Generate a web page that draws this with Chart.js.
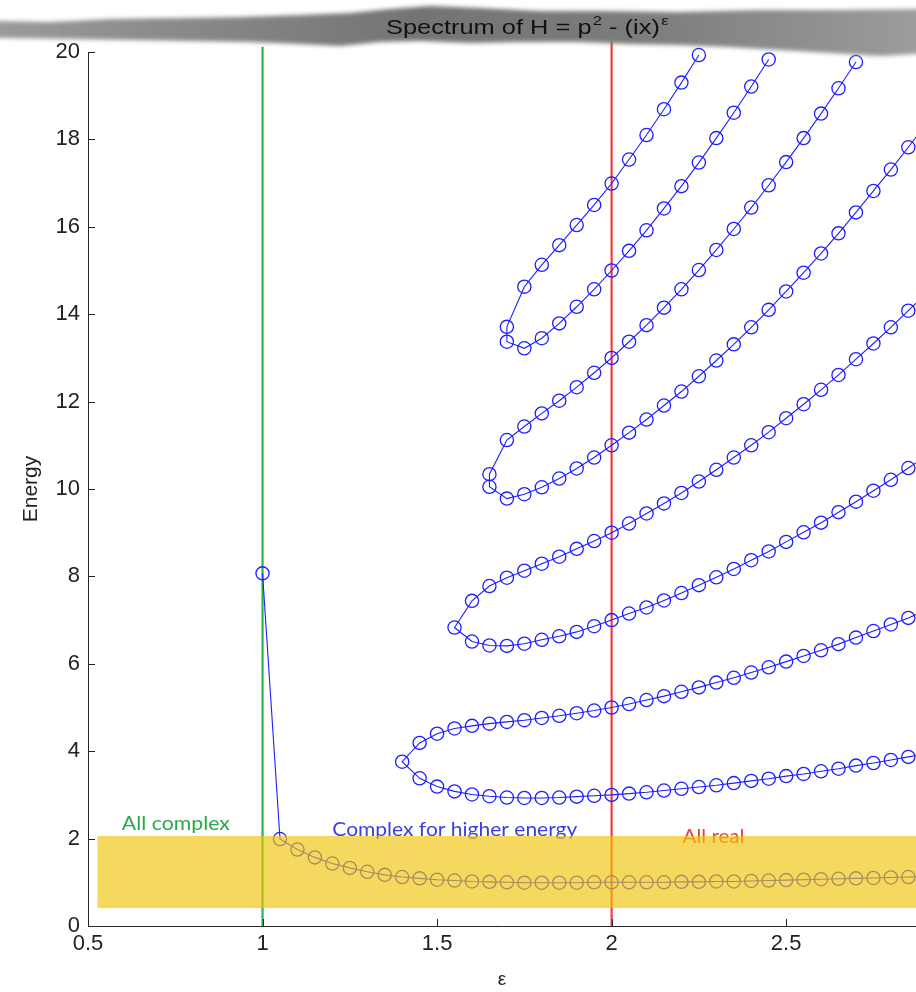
<!DOCTYPE html>
<html>
<head>
<meta charset="utf-8">
<title>Spectrum of H = p² - (ix)^ε</title>
<script src="https://cdn.jsdelivr.net/npm/chart.js@4.4.1/dist/chart.umd.min.js"></script>
<style>
  html, body { margin: 0; padding: 0; background: #fff; }
  #wrap { position: relative; width: 916px; height: 992px; overflow: hidden; }
</style>
</head>
<body>
<div id="wrap"><canvas id="spectrum" width="916" height="992"></canvas></div>
<script>
// epsilon grid, one marker every 0.05
const epsValues = [1.00, 1.05, 1.10, 1.15, 1.20, 1.25, 1.30, 1.35, 1.40, 1.45, 1.50, 1.55, 1.60, 1.65, 1.70, 1.75, 1.80, 1.85, 1.90, 1.95,
                   2.00, 2.05, 2.10, 2.15, 2.20, 2.25, 2.30, 2.35, 2.40, 2.45, 2.50, 2.55, 2.60, 2.65, 2.70, 2.75, 2.80, 2.85, 2.90];

// energy levels (null = no marker at that epsilon)
const energyN0 = [8.07, 1.99, 1.75, 1.57, 1.43, 1.33, 1.24, 1.17, 1.12, 1.09, 1.06, 1.04, 1.02, 1.01, 1.00, 0.99, 0.99, 0.99, 0.99, 1.00,
                  1.00, 1.00, 1.00, 1.00, 1.01, 1.01, 1.02, 1.02, 1.03, 1.04, 1.05, 1.06, 1.07, 1.08, 1.09, 1.10, 1.11, 1.12, 1.13];
const energyN1 = [null, null, null, null, null, null, null, null, null, 3.38, 3.19, 3.08, 3.01, 2.97, 2.94, 2.93, 2.93, 2.94, 2.96, 2.98,
                  3.00, 3.03, 3.06, 3.10, 3.14, 3.18, 3.22, 3.27, 3.32, 3.37, 3.43, 3.48, 3.54, 3.60, 3.67, 3.73, 3.80, 3.87, 3.94];
const energyN2 = [null, null, null, null, null, null, null, null, 3.76, 4.19, 4.40, 4.52, 4.58, 4.63, 4.67, 4.71, 4.76, 4.81, 4.87, 4.93,
                  5.00, 5.08, 5.17, 5.26, 5.36, 5.46, 5.57, 5.68, 5.80, 5.92, 6.05, 6.18, 6.31, 6.45, 6.60, 6.75, 6.90, 7.05, 7.22];
const energyN3 = [null, null, null, null, null, null, null, null, null, null, null, null, 6.51, 6.42, 6.41, 6.46, 6.55, 6.63, 6.73, 6.86,
                  7.00, 7.15, 7.29, 7.45, 7.62, 7.80, 7.98, 8.17, 8.37, 8.57, 8.79, 9.01, 9.23, 9.47, 9.71, 9.96, 10.21, 10.48, 10.75];
const energyN4 = [null, null, null, null, null, null, null, null, null, null, null, 6.83, 7.44, 7.78, 7.97, 8.13, 8.29, 8.45, 8.63, 8.81,
                  9.00, 9.21, 9.44, 9.67, 9.91, 10.17, 10.44, 10.72, 11.00, 11.30, 11.62, 11.94, 12.27, 12.61, 12.97, 13.33, 13.70, 14.08, 14.47];
const energyN5 = [null, null, null, null, null, null, null, null, null, null, null, null, null, 10.05, 9.78, 9.88, 10.04, 10.24, 10.47, 10.72,
                  11.00, 11.29, 11.59, 11.91, 12.23, 12.58, 12.94, 13.31, 13.70, 14.10, 14.52, 14.95, 15.39, 15.85, 16.33, 16.82, 17.31, 17.82, 18.35];
const energyN6 = [null, null, null, null, null, null, null, null, null, null, null, null, null, 10.34, 11.12, 11.43, 11.73, 12.02, 12.33, 12.66,
                  13.00, 13.37, 13.75, 14.15, 14.57, 15.01, 15.47, 15.95, 16.44, 16.95, 17.48, 18.03, 18.59, 19.17, 19.77, null, null, null, null];
const energyN7 = [null, null, null, null, null, null, null, null, null, null, null, null, null, null, 13.37, 13.22, 13.45, 13.79, 14.17, 14.57,
                  15.00, 15.45, 15.92, 16.42, 16.93, 17.47, 18.03, 18.61, 19.21, 19.83, null, null, null, null, null, null, null, null, null];
const energyN8 = [null, null, null, null, null, null, null, null, null, null, null, null, null, null, 13.71, 14.63, 15.13, 15.58, 16.04, 16.50,
                  16.99, 17.54, 18.10, 18.69, 19.30, 19.93, null, null, null, null, null, null, null, null, null, null, null, null, null];

// tick labels
const xTickValues = [0.5, 1, 1.5, 2, 2.5];
const yTickValues = [0, 2, 4, 6, 8, 10, 12, 14, 16, 18, 20];

// vertical boundaries and highlighted band
const complexEps = 1;
const complexLineE = [0, 20.12];
const realEps = 2;
const realLineE = [0, 20.25];
const bandEps = [0.527, 2.9];
const bandE = [0.41, 2.06];

// region captions
const regionLabels = ['All complex', 'Complex for higher energy', 'All real'];
const regionEps = [0.597, 1.20, 2.203];
const regionE = [2.20, 2.05, 1.90];

const xMin = 0.5, xMax = 2.872;
const blue = 'rgb(30,30,255)';

function el(id) { return document.getElementById(id); }

function branchPoints(energies) {
    const pts = [];
    energies.forEach((e, i) => { if (e !== null) pts.push({ x: epsValues[i], y: e }); });
    return pts;
}

// a loop = lower branch walked leftwards to the merge point, then the upper branch rightwards
function loopPoints(lower, upper) {
    return branchPoints(lower).reverse().concat(branchPoints(upper));
}

function levelSet(points) {
    return {
        data: points, showLine: true, clip: false, order: 1,
        borderColor: blue, borderWidth: 1.1,
        pointRadius: 6.6, pointHoverRadius: 6.6, pointBorderWidth: 1.3,
        pointBorderColor: blue, pointBackgroundColor: 'rgba(0,0,0,0)'
    };
}

function boundarySet(eps, energies, color) {
    return {
        data: energies.map(e => ({ x: eps, y: e })), showLine: true, clip: false, order: 2,
        borderColor: color, borderWidth: 2.2, pointRadius: 0
    };
}

const datasets = [
    levelSet(branchPoints(energyN0)),
    levelSet(loopPoints(energyN1, energyN2)),
    levelSet(loopPoints(energyN3, energyN4)),
    levelSet(loopPoints(energyN5, energyN6)),
    levelSet(loopPoints(energyN7, energyN8)),
    boundarySet(complexEps, complexLineE, 'rgb(45,178,75)'),
    boundarySet(realEps, realLineE, 'rgb(236,62,62)')
];

function fitText(ctx, text, x, y, width, font, color) {
    ctx.save();
    ctx.font = font;
    ctx.fillStyle = color;
    ctx.textBaseline = 'alphabetic';
    const w = ctx.measureText(text).width;
    ctx.translate(x, y);
    ctx.scale(width / w, 1);
    ctx.fillText(text, 0, 0);
    ctx.restore();
}

const overlayPlugin = {
    id: 'overlay',
    afterDatasetsDraw(chart) {
        const { ctx, scales: { x, y } } = chart;
        // captions, then the translucent yellow band over everything
        const capColors = ['rgb(40,170,70)', 'rgb(60,60,230)', 'rgb(240,60,60)'];
        const capWidths = [108, 245, 62];
        regionLabels.forEach((t, i) => {
            fitText(ctx, t, x.getPixelForValue(regionEps[i]), y.getPixelForValue(regionE[i]), capWidths[i], '19px Lato, "Open Sans", sans-serif', capColors[i]);
        });
        const x0 = x.getPixelForValue(bandEps[0]), x1 = chart.width;
        const y0 = y.getPixelForValue(bandE[1]), y1 = y.getPixelForValue(bandE[0]);
        ctx.save();
        ctx.fillStyle = 'rgba(240,197,12,0.66)';
        ctx.fillRect(x0, y0, x1 - x0, y1 - y0);
        ctx.restore();
    },
    afterDraw(chart) {
        const { ctx, chartArea, scales: { x, y } } = chart;
        // inward ticks, matlab style
        ctx.save();
        ctx.strokeStyle = '#262626';
        ctx.lineWidth = 1;
        ctx.beginPath();
        xTickValues.forEach(v => {
            const px = Math.round(x.getPixelForValue(v)) + 0.5;
            ctx.moveTo(px, chartArea.bottom); ctx.lineTo(px, chartArea.bottom - 7);
        });
        yTickValues.forEach(v => {
            const py = Math.round(y.getPixelForValue(v)) + 0.5;
            ctx.moveTo(chartArea.left, py); ctx.lineTo(chartArea.left + 7, py);
        });
        ctx.stroke();
        ctx.restore();

        // torn grey strip behind the title
        const top = [[0, 21], [50, 22], [110, 19], [180, 18], [240, 17], [300, 15], [350, 13], [390, 9], [430, 6], [480, 8], [540, 11], [600, 11], [680, 12], [760, 10], [840, 10], [916, 9]];
        const bottom = [[916, 54], [880, 56], [830, 53], [780, 50], [730, 47], [680, 45], [630, 44], [580, 42], [520, 42], [470, 43], [420, 41], [380, 42], [340, 46], [300, 44], [250, 42], [190, 41], [130, 40], [70, 39], [0, 38]];
        ctx.save();
        ctx.filter = 'blur(2px)';
        const g = ctx.createLinearGradient(0, 0, 916, 0);
        g.addColorStop(0, '#9a9a9a');
        g.addColorStop(0.45, '#747474');
        g.addColorStop(0.7, '#7c7c7c');
        g.addColorStop(1, '#9c9c9c');
        ctx.fillStyle = g;
        ctx.beginPath();
        ctx.moveTo(-10, top[0][1]);
        top.forEach(p => ctx.lineTo(p[0], p[1]));
        ctx.lineTo(930, 9); ctx.lineTo(930, 54);
        bottom.forEach(p => ctx.lineTo(p[0], p[1]));
        ctx.lineTo(-10, 38);
        ctx.closePath();
        ctx.fill();
        ctx.restore();

        // title: Spectrum of H = p^2 - (ix)^eps
        const parts = [['Spectrum of H = p', 0], ['2', 1], [' - (ix)', 0], ['ε', 1]];
        ctx.save();
        const baseFont = '20px "Liberation Sans", Arial, sans-serif';
        const supFont = '13px "Liberation Sans", Arial, sans-serif';
        let total = 0;
        parts.forEach(p => { ctx.font = p[1] ? supFont : baseFont; total += ctx.measureText(p[0]).width; });
        ctx.translate(386, 34);
        ctx.scale(280 / total, 1);
        ctx.fillStyle = '#111';
        let cx = 0;
        parts.forEach(p => {
            ctx.font = p[1] ? supFont : baseFont;
            ctx.fillText(p[0], cx + (p[1] ? 1 : 0), p[1] ? -9 : 0);
            cx += ctx.measureText(p[0]).width + (p[1] ? 1 : 0);
        });
        ctx.restore();
    }
};

const tickFont = { family: '"Liberation Sans", Arial, sans-serif', size: 22 };

new Chart(el('spectrum').getContext('2d'), {
    type: 'scatter',
    data: { datasets },
    options: {
        responsive: false,
        animation: false,
        events: [],
        layout: { autoPadding: false, padding: { top: 52, right: 0, bottom: 0, left: 0 } },
        plugins: { legend: { display: false }, tooltip: { enabled: false } },
        scales: {
            x: {
                type: 'linear', min: xMin, max: xMax,
                afterBuildTicks: s => { s.ticks = xTickValues.map(v => ({ value: v })); },
                afterFit: s => { s.height = 66; },
                ticks: { font: tickFont, color: '#222', padding: 5, maxRotation: 0, callback: v => String(v) },
                grid: { drawOnChartArea: false, drawTicks: false },
                border: { color: '#262626', width: 1 },
                title: { display: true, text: 'ε', font: { family: '"Liberation Sans", Arial, sans-serif', size: 19 }, color: '#222', padding: { top: 0, bottom: 1 } }
            },
            y: {
                type: 'linear', min: 0, max: 20,
                afterBuildTicks: s => { s.ticks = yTickValues.map(v => ({ value: v })); },
                afterFit: s => { s.width = 88; },
                ticks: { font: tickFont, color: '#222', padding: 8, callback: v => String(v) },
                grid: { drawOnChartArea: false, drawTicks: false },
                border: { color: '#262626', width: 1 },
                title: { display: true, text: 'Energy', font: { family: '"Liberation Sans", Arial, sans-serif', size: 21 }, color: '#222', padding: { top: 19, bottom: 0 } }
            }
        }
    },
    plugins: [overlayPlugin]
});
</script>
</body>
</html>
